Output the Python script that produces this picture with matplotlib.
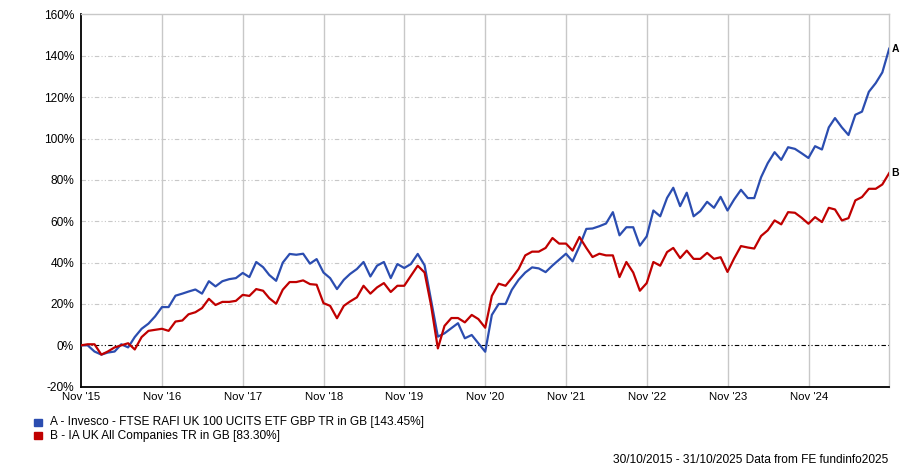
import matplotlib
matplotlib.use("Agg")
import matplotlib.pyplot as plt
import matplotlib.dates as mdates
import pandas as pd
import numpy as np

dates = pd.date_range("2015-10-31", periods=121, freq="ME")

fund_a = [0, 0, -3, -4.5, -3.5, -3, 0.5, -1, 4, 8, 10.5, 14, 18.5, 18.5, 24, 25, 26, 27, 25, 31, 28.5, 31, 32, 32.5,
          35, 33, 40.3, 37.8, 34, 31.2, 40, 44.2, 43.8, 44.3, 39.5, 41.7, 35.2, 32.5, 27.2, 31.7, 34.5, 36.9, 40.3, 33.3, 38.5, 40.3, 32.5, 39.3, 37.4, 39.3,
          44.2, 38.7, 22, 4.2, 5.8, 8.3, 10.7, 3.4, 5, 1, -3.1, 14.7, 20, 20, 26.8, 31.7, 35.2, 37.7, 37.2, 35.4, 38.6, 41.4, 44.3, 40.6,
          47.9, 56.3, 56.5, 57.6, 58.9, 64.4, 53.2, 57.1, 57.1, 48.2, 52.7, 65.2, 62.4, 71.3, 76.2, 67.3, 73.8, 62.4, 64.9, 69.4, 66.5, 71.8, 65.2, 70.5,
          75.2, 71.2, 71.2, 81.3, 88.1, 93.4, 89.7, 95.8, 95, 92.9, 90.6, 96.3, 94.7, 105.4, 109.9, 105.4, 101.7, 111.5, 113, 122.6, 126.8, 132, 143.45]

fund_b = [0, 0.5, 0.5, -4.5, -3, -1, 0, 1, -2, 4, 7, 7.5, 8, 7, 11.5, 12, 15, 16, 18, 22.5, 19.5, 21, 21, 21.5,
          24.4, 23.9, 27.2, 26.4, 22.8, 20.1, 26.9, 30.6, 30.6, 31.4, 29.6, 29.3, 20.4, 19.1, 13.1, 19.1, 21.2, 23.2, 28.8, 25, 28, 30.1, 25.8, 28.8, 28.8, 33.6,
          38.5, 35.2, 19.5, -1.5, 9.4, 13.2, 13.2, 11.1, 14.7, 12.7, 8.5, 23.9, 29.8, 28.8, 32.5, 36.9, 43.5, 45.3, 45.3, 47.1, 51.9, 49.2, 49.2, 45.8,
          52.4, 47.1, 42.7, 44.3, 43.5, 43.5, 33, 40.3, 35.2, 26.4, 30.1, 40.3, 38.5, 45.1, 47.1, 42.2, 45.8, 41.8, 41.8, 44.7, 41.8, 42.6, 35.5, 42,
          48, 47.3, 46.8, 52.9, 55.6, 60.4, 58.5, 64.4, 64.1, 61.7, 58.8, 62, 59.6, 66.5, 65.7, 60.4, 61.5, 70.1, 71.7, 75.7, 75.7, 77.8, 83.3]

series_names = ["A - Invesco - FTSE RAFI UK 100 UCITS ETF GBP TR in GB [143.45%]",
                "B - IA UK All Companies TR in GB [83.30%]"]
end_labels = ["A", "B"]
colors = ["#2B4DB0", "#C00000"]

tick_years = list(range(2015, 2025))
tick_labels = ["Nov '%02d" % (y % 100) for y in tick_years]
y_ticks = list(range(-20, 161, 20))

plt.rcParams["font.family"] = ["Liberation Sans", "DejaVu Sans"]

fig = plt.figure(figsize=(9, 4.67), dpi=100)
ax = fig.add_axes([0.09, 0.172, 0.898, 0.797])

grid_color = "#c8c8c8"
tick_dates = [pd.Timestamp(f"{y}-11-01") for y in tick_years]
for td in tick_dates[1:]:
    ax.axvline(td, color=grid_color, lw=1.0, zorder=1)
for yv in y_ticks:
    if yv in (-20, 160, 0):
        continue
    ax.axhline(yv, color=grid_color, lw=0.8, linestyle=(0, (4, 2, 1, 2, 1, 2)), zorder=1)
ax.axhline(0, color="black", lw=0.8, linestyle=(0, (4, 2, 1, 2, 1, 2)), zorder=2)

for vals, col in zip([fund_a, fund_b], colors):
    ax.plot(dates, vals, color=col, lw=1.6, zorder=3)

ax.set_xlim(dates[0], dates[-1])
ax.set_ylim(-20, 160)
ax.set_yticks(y_ticks)
ax.set_yticklabels([f"{v}%" for v in y_ticks])
ax.set_xticks(tick_dates)
ax.set_xticklabels(tick_labels)
ax.tick_params(axis="both", length=0, colors="black")
ax.tick_params(axis="y", pad=5, labelsize=8.6)
ax.tick_params(axis="x", pad=4, labelsize=8.2)

for s in ["top", "right"]:
    ax.spines[s].set_color(grid_color)
    ax.spines[s].set_linewidth(1.0)
ax.spines["left"].set_color("black")
ax.spines["left"].set_linewidth(1.3)
ax.spines["bottom"].set_color("black")
ax.spines["bottom"].set_linewidth(1.3)

for vals, lab in zip([fund_a, fund_b], end_labels):
    ax.annotate(lab, xy=(dates[-1], vals[-1]), xytext=(1.5, 0), textcoords="offset points",
                ha="left", va="center", fontsize=7.5, fontweight="bold", annotation_clip=False)

# legend
for i, (name, col) in enumerate(zip(series_names, colors)):
    ypix = 422.5 + i * 13
    yf = 1 - ypix / 467
    fig.patches.append(plt.Rectangle((34 / 900, yf - 3.5 / 467), 7.5 / 900, 7 / 467,
                                     transform=fig.transFigure, color=col, figure=fig))
    fig.text(50 / 900, yf, name, ha="left", va="center", fontsize=8.6)

fig.text(888 / 900, 1 - 460 / 467, "30/10/2015 - 31/10/2025 Data from FE fundinfo2025",
         ha="right", va="center", fontsize=8.6)

fig.savefig("out.png", dpi=100)
